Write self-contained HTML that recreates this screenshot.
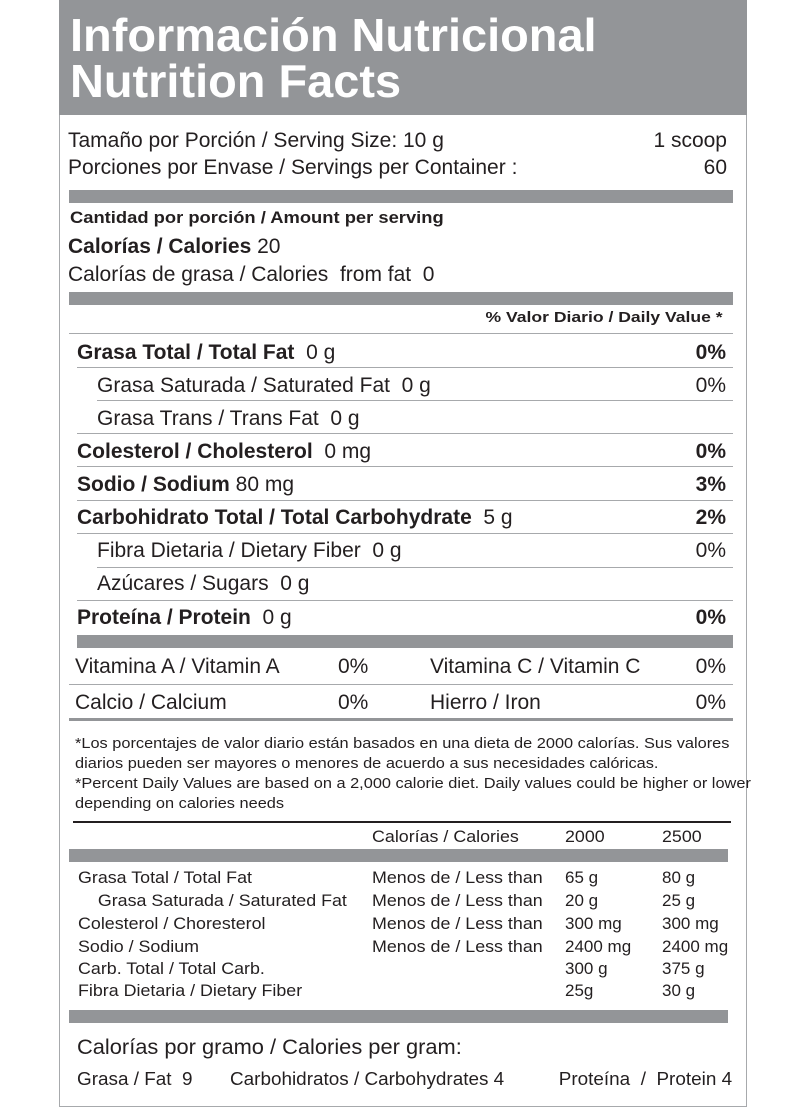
<!DOCTYPE html>
<html><head><meta charset="utf-8"><style>
body{margin:0;width:803px;height:1109px;background:#fff;position:relative;overflow:hidden;font-family:"Liberation Sans",sans-serif;color:#231f20}
.t{position:absolute;white-space:nowrap;transform-origin:0 0;line-height:1}
.r{transform-origin:100% 0}
.b{font-weight:bold}
.bar{position:absolute;background:#939598}
.ln{position:absolute;height:1px;background:#a7a9ac}
.s{font-size:17px;transform:scaleX(1.05)}
</style></head><body>
<div style="position:absolute;left:59px;top:0;width:686px;height:1106px;border:1px solid #a7a9ac;border-top:none"></div>
<div class="bar" style="left:59px;top:0;width:688px;height:115px"></div>
<div class="t b" style="left:70px;top:12px;font-size:46px;color:#fff;transform:scaleX(1.02)">Información Nutricional</div>
<div class="t b" style="left:70px;top:58px;font-size:46px;color:#fff;transform:scaleX(1.02)">Nutrition Facts</div>

<div class="t" style="left:68px;top:130px;font-size:21px">Tamaño por Porción / Serving Size: 10 g</div>
<div class="t r" style="right:76px;top:130px;font-size:21px">1 scoop</div>
<div class="t" style="left:68px;top:157px;font-size:21px">Porciones por Envase / Servings per Container :</div>
<div class="t r" style="right:76px;top:157px;font-size:21px">60</div>
<div class="bar" style="left:69px;top:190px;width:664px;height:13px"></div>
<div class="t b" style="left:70px;top:209px;font-size:17px;transform:scaleX(1.08)">Cantidad por porción / Amount per serving</div>
<div class="t" style="left:68px;top:236px;font-size:21px"><b>Calorías / Calories</b> 20</div>
<div class="t" style="left:68px;top:264px;font-size:21px">Calorías de grasa / Calories &nbsp;from fat &nbsp;0</div>
<div class="bar" style="left:69px;top:292px;width:664px;height:13px"></div>
<div class="t b r" style="right:80px;top:310px;font-size:15px;transform:scaleX(1.17)">% Valor Diario / Daily Value *</div>
<div class="ln" style="left:69px;top:333px;width:664px"></div>

<div class="t" style="left:77px;top:342px;font-size:21px"><b>Grasa Total / Total Fat</b> &nbsp;0 g</div>
<div class="t b r" style="right:77px;top:342px;font-size:21px">0%</div>
<div class="ln" style="left:77px;top:367px;width:656px"></div>
<div class="t" style="left:97px;top:375px;font-size:21px">Grasa Saturada / Saturated Fat &nbsp;0 g</div>
<div class="t r" style="right:77px;top:375px;font-size:21px">0%</div>
<div class="ln" style="left:97px;top:400px;width:636px"></div>
<div class="t" style="left:97px;top:408px;font-size:21px">Grasa Trans / Trans Fat &nbsp;0 g</div>
<div class="ln" style="left:77px;top:433px;width:656px"></div>
<div class="t" style="left:77px;top:441px;font-size:21px"><b>Colesterol / Cholesterol</b> &nbsp;0 mg</div>
<div class="t b r" style="right:77px;top:441px;font-size:21px">0%</div>
<div class="ln" style="left:77px;top:466px;width:656px"></div>
<div class="t" style="left:77px;top:474px;font-size:21px"><b>Sodio / Sodium</b> 80 mg</div>
<div class="t b r" style="right:77px;top:474px;font-size:21px">3%</div>
<div class="ln" style="left:77px;top:500px;width:656px"></div>
<div class="t" style="left:77px;top:507px;font-size:21px"><b>Carbohidrato Total / Total Carbohydrate</b> &nbsp;5 g</div>
<div class="t b r" style="right:77px;top:507px;font-size:21px">2%</div>
<div class="ln" style="left:77px;top:533px;width:656px"></div>
<div class="t" style="left:97px;top:540px;font-size:21px">Fibra Dietaria / Dietary Fiber &nbsp;0 g</div>
<div class="t r" style="right:77px;top:540px;font-size:21px">0%</div>
<div class="ln" style="left:97px;top:567px;width:636px"></div>
<div class="t" style="left:97px;top:573px;font-size:21px">Azúcares / Sugars &nbsp;0 g</div>
<div class="ln" style="left:77px;top:600px;width:656px"></div>
<div class="t" style="left:77px;top:607px;font-size:21px"><b>Proteína / Protein</b> &nbsp;0 g</div>
<div class="t b r" style="right:77px;top:607px;font-size:21px">0%</div>
<div class="bar" style="left:77px;top:635px;width:656px;height:13px"></div>

<div class="t" style="left:75px;top:656px;font-size:21px">Vitamina A / Vitamin A</div>
<div class="t" style="left:338px;top:656px;font-size:21px">0%</div>
<div class="t" style="left:430px;top:656px;font-size:21px">Vitamina C / Vitamin C</div>
<div class="t r" style="right:77px;top:656px;font-size:21px">0%</div>
<div class="ln" style="left:69px;top:684px;width:664px"></div>
<div class="t" style="left:75px;top:692px;font-size:21px">Calcio / Calcium</div>
<div class="t" style="left:338px;top:692px;font-size:21px">0%</div>
<div class="t" style="left:430px;top:692px;font-size:21px">Hierro / Iron</div>
<div class="t r" style="right:77px;top:692px;font-size:21px">0%</div>
<div class="bar" style="left:69px;top:718px;width:664px;height:3px"></div>

<div class="t" style="left:75px;top:734px;font-size:15px;line-height:20px;transform:scaleX(1.09)">*Los porcentajes de valor diario están basados en una dieta de 2000 calorías. Sus valores<br>diarios pueden ser mayores o menores de acuerdo a sus necesidades calóricas.<br>*Percent Daily Values are based on a 2,000 calorie diet. Daily values could be higher or lower<br>depending on calories needs</div>
<div style="position:absolute;left:73px;top:821px;width:658px;height:2px;background:#231f20"></div>

<div class="t s" style="left:372px;top:828px">Calorías / Calories</div>
<div class="t s" style="left:565px;top:828px">2000</div>
<div class="t s" style="left:662px;top:828px">2500</div>
<div class="bar" style="left:69px;top:849px;width:659px;height:13px"></div>
<div class="t s" style="left:78px;top:866px;line-height:23px">Grasa Total / Total Fat<br>&nbsp;&nbsp;&nbsp;&nbsp;Grasa Saturada / Saturated Fat<br>Colesterol / Choresterol<br>Sodio / Sodium</div>
<div class="t s" style="left:78px;top:958px;line-height:22px">Carb. Total / Total Carb.<br>Fibra Dietaria / Dietary Fiber</div>
<div class="t s" style="left:372px;top:866px;line-height:23px">Menos de / Less than<br>Menos de / Less than<br>Menos de / Less than<br>Menos de / Less than</div>
<div class="t s" style="left:565px;top:866px;line-height:23px;transform:none">65 g<br>20 g<br>300 mg<br>2400 mg</div>
<div class="t s" style="left:565px;top:958px;line-height:22px;transform:none">300 g<br>25g</div>
<div class="t s" style="left:662px;top:866px;line-height:23px;transform:none">80 g<br>25 g<br>300 mg<br>2400 mg</div>
<div class="t s" style="left:662px;top:958px;line-height:22px;transform:none">375 g<br>30 g</div>
<div class="bar" style="left:69px;top:1010px;width:659px;height:13px"></div>
<div class="t" style="left:77px;top:1037px;font-size:21px;transform:scaleX(1.04)">Calorías por gramo / Calories per gram:</div>
<div class="t" style="left:77px;top:1070px;font-size:18px;transform:scaleX(1.05)">Grasa / Fat &nbsp;9</div>
<div class="t" style="left:230px;top:1070px;font-size:18px;transform:scaleX(1.05)">Carbohidratos / Carbohydrates 4</div>
<div class="t r" style="right:71px;top:1070px;font-size:18px;transform:scaleX(1.05)">Proteína &nbsp;/ &nbsp;Protein 4</div>
</body></html>
